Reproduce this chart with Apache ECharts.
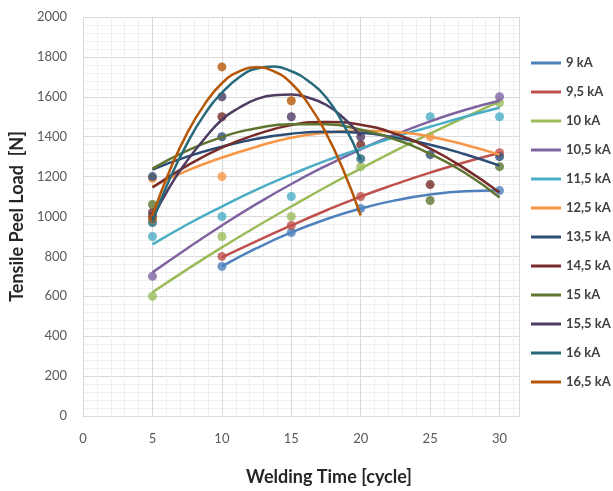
<!DOCTYPE html>
<html>
<head>
<meta charset="utf-8">
<script src="https://cdn.jsdelivr.net/npm/echarts@6/dist/echarts.min.js"></script>
<style>
  html, body { margin: 0; padding: 0; background: #fff; }
  #chart { width: 613px; height: 491px; }
</style>
</head>
<body>
<div id="chart"></div>
<script>
// series names (welding current)
var names = ["9 kA", "9,5 kA", "10 kA", "10,5 kA", "11,5 kA", "12,5 kA",
  "13,5 kA", "14,5 kA", "15 kA", "15,5 kA", "16 kA", "16,5 kA"];

// measured points [welding time, load]
var pts9 = [[10, 750], [15, 920], [20, 1040], [30, 1130]];
var pts95 = [[10, 800], [15, 955], [20, 1100], [30, 1320]];
var pts10 = [[5, 600], [10, 900], [15, 1000], [20, 1250], [30, 1570]];
var pts105 = [[5, 700], [30, 1600]];
var pts115 = [[5, 900], [10, 1000], [15, 1100], [25, 1500], [30, 1500]];
var pts125 = [[5, 1190], [10, 1200], [25, 1400]];
var pts135 = [[5, 1200], [10, 1400], [25, 1310], [30, 1300]];
var pts145 = [[5, 1020], [10, 1500], [20, 1360], [25, 1160]];
var pts15 = [[5, 1060], [25, 1080], [30, 1250]];
var pts155 = [[5, 1000], [10, 1600], [15, 1500], [20, 1400]];
var pts16 = [[5, 970], [20, 1290]];
var pts165 = [[5, 990], [10, 1750], [15, 1580]];

// trendline x positions
var tx5to30 = [5, 7.5, 10, 12.5, 15, 17.5, 20, 22.5, 25, 27.5, 30];
var tx10to30 = [10, 12.5, 15, 17.5, 20, 22.5, 25, 27.5, 30];
var tx5to20 = [5, 6.25, 7.5, 8.75, 10, 11.25, 12.5, 13.75, 15, 16.25, 17.5, 18.75, 20];

// trendline values
var tr9 = [750, 841, 920, 986, 1040, 1081, 1110, 1126, 1130];
var tr95 = [795, 877, 955, 1030, 1100, 1162, 1220, 1272, 1318];
var tr10 = [620, 735, 845, 950, 1050, 1148, 1240, 1330, 1415, 1497, 1577];
var tr105 = [720, 840, 955, 1063, 1163, 1254, 1337, 1411, 1477, 1534, 1580];
var tr115 = [860, 960, 1050, 1135, 1210, 1280, 1340, 1400, 1450, 1500, 1545];
var tr125 = [1150, 1230, 1295, 1350, 1395, 1420, 1430, 1425, 1400, 1360, 1310];
var tr135 = [1235, 1300, 1350, 1390, 1415, 1425, 1420, 1395, 1360, 1312, 1255];
var tr145 = [1145, 1255, 1345, 1412, 1458, 1474, 1460, 1414, 1340, 1240, 1120];
var tr15 = [1240, 1330, 1398, 1442, 1463, 1462, 1435, 1386, 1314, 1219, 1095];
var tr155 = [990, 1150, 1280, 1390, 1485, 1545, 1588, 1608, 1611, 1595, 1560, 1495, 1405];
var tr16 = [975, 1190, 1367, 1512, 1620, 1698, 1742, 1752, 1728, 1678, 1598, 1463, 1285];
var tr165 = [1005, 1232, 1418, 1562, 1668, 1727, 1748, 1727, 1668, 1562, 1418, 1232, 1005];

var colors = ["#4F81BD", "#C0504D", "#9BBB59", "#8064A2", "#4BACC6", "#F79646",
  "#2C4D75", "#772C2A", "#5F7530", "#4D3B62", "#276A7C", "#B65708"];

var ptsList = [pts9, pts95, pts10, pts105, pts115, pts125, pts135, pts145, pts15, pts155, pts16, pts165];
var trX = [tx10to30, tx10to30, tx5to30, tx5to30, tx5to30, tx5to30, tx5to30, tx5to30, tx5to30, tx5to20, tx5to20, tx5to20];
var trY = [tr9, tr95, tr10, tr105, tr115, tr125, tr135, tr145, tr15, tr155, tr16, tr165];

var font = "Lato, 'Open Sans', sans-serif";
var series = [];
for (var i = 0; i < names.length; i++) {
  series.push({
    name: names[i] + " pts",
    type: "scatter",
    symbolSize: 9,
    itemStyle: { color: colors[i] },
    z: 2,
    data: ptsList[i]
  });
}
for (var j = 0; j < names.length; j++) {
  var d = [];
  for (var k = 0; k < trX[j].length; k++) {
    d.push([trX[j][k], trY[j][k]]);
  }
  series.push({
    name: names[j],
    type: "line",
    smooth: true,
    symbol: "none",
    color: colors[j],
    lineStyle: { width: 2.5, color: colors[j] },
    z: 3,
    data: d
  });
}

var myChart = echarts.init(document.getElementById("chart"));
var option = {
  animation: false,
  backgroundColor: "#fff",
  textStyle: { fontFamily: font },
  legend: {
    orient: "vertical",
    left: 526,
    top: 50,
    icon: "rect",
    itemWidth: 30,
    itemHeight: 3,
    itemGap: 13,
    data: names,
    textStyle: { fontSize: 13, lineHeight: 16, color: "#404040", fontWeight: "bold", fontFamily: font }
  },
  grid: { left: 79, top: 17, right: 94, bottom: 73, containLabel: false },
  xAxis: {
    type: "value",
    min: 0,
    max: 31.4,
    interval: 5,
    name: "Welding Time [cycle]",
    nameLocation: "middle",
    nameGap: 52,
    nameTextStyle: { fontSize: 18, fontWeight: "bold", color: "#262626", fontFamily: font, padding: [0, 0, 0, 56] },
    axisLine: { show: true, lineStyle: { color: "#d9d9d9", width: 1 } },
    axisTick: { show: false },
    axisLabel: {
      fontSize: 13, color: "#595959", margin: 16, fontFamily: font,
      formatter: function (v) { return v % 5 === 0 ? String(v) : ""; }
    },
    splitLine: { show: true, lineStyle: { color: "#d9d9d9" } },
    minorTick: { show: false, splitNumber: 5 },
    minorSplitLine: { show: true, lineStyle: { color: "#f0f0f0" } }
  },
  yAxis: {
    type: "value",
    min: 0,
    max: 2000,
    interval: 200,
    name: "Tensile Peel Load  [N]",
    nameLocation: "middle",
    nameGap: 54,
    nameTextStyle: { fontSize: 18, fontWeight: "bold", color: "#262626", fontFamily: font },
    axisLine: { show: false },
    axisTick: { show: false },
    axisLabel: {
      fontSize: 13, color: "#595959", margin: 16, fontFamily: font,
      formatter: function (v) { return String(v); }
    },
    splitLine: { show: true, lineStyle: { color: "#d9d9d9" } },
    minorTick: { show: false, splitNumber: 5 },
    minorSplitLine: { show: true, lineStyle: { color: "#f0f0f0" } }
  },
  series: series
};
myChart.setOption(option);
</script>
</body>
</html>
